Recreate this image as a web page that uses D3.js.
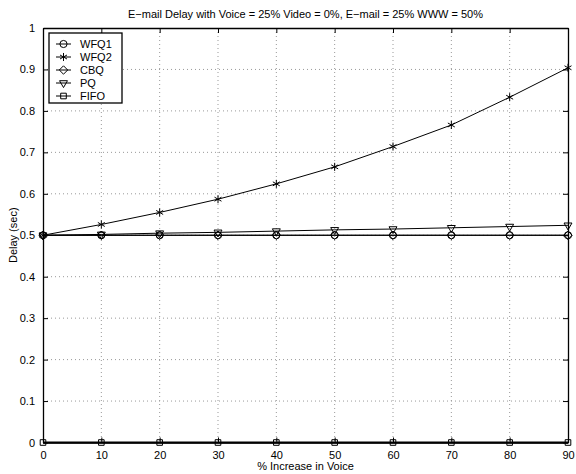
<!DOCTYPE html>
<html>
<head>
<meta charset="utf-8">
<script src="https://cdn.jsdelivr.net/npm/d3@7"></script>
<style>
    body { margin: 0; background: #fff; }
    svg { display: block; font-family: "Liberation Sans", Arial, sans-serif; }
    .grid line { stroke: #999; stroke-dasharray: 1 3; }
</style>
</head>
<body>
<div id="chart"></div>
<script>
// E-mail delay vs voice increase
const xValues = [0, 10, 20, 30, 40, 50, 60, 70, 80, 90];
const wfq1 = [0.5, 0.5, 0.5, 0.5, 0.5, 0.5, 0.5, 0.5, 0.5, 0.5];
const wfq2 = [0.5, 0.526, 0.555, 0.587, 0.624, 0.665, 0.714, 0.766, 0.833, 0.904];
const cbq = [0.5, 0.5, 0.5, 0.5, 0.5, 0.5, 0.5, 0.5, 0.5, 0.5];
const pq = [0.5, 0.502, 0.505, 0.507, 0.51, 0.513, 0.515, 0.518, 0.521, 0.524];
const fifo = [0, 0, 0, 0, 0, 0, 0, 0, 0, 0];
const seriesNames = ['WFQ1', 'WFQ2', 'CBQ', 'PQ', 'FIFO'];
const xTicks = [0, 10, 20, 30, 40, 50, 60, 70, 80, 90];
const yTicks = [0, 0.1, 0.2, 0.3, 0.4, 0.5, 0.6, 0.7, 0.8, 0.9, 1];

const width = 576, height = 474;
const margin = {top: 28, right: 8, bottom: 31.5, left: 43};
const iw = width - margin.left - margin.right;
const ih = height - margin.top - margin.bottom;

const x = d3.scaleLinear().domain([0, 90]).range([0, iw]);
const y = d3.scaleLinear().domain([0, 1]).range([ih, 0]);

const svg = d3.select('#chart').append('svg')
    .attr('width', width).attr('height', height);
const g = svg.append('g').attr('transform', `translate(${margin.left},${margin.top})`);

// grid
g.append('g').attr('class', 'grid')
    .selectAll('line').data(xTicks.slice(1, -1)).enter().append('line')
    .attr('x1', d => x(d)).attr('x2', d => x(d)).attr('y1', 0).attr('y2', ih);
g.append('g').attr('class', 'grid')
    .selectAll('line').data(yTicks.slice(1, -1)).enter().append('line')
    .attr('y1', d => y(d)).attr('y2', d => y(d)).attr('x1', 0).attr('x2', iw);

// axes (MATLAB style: inward ticks on all sides)
const fmt = d => d === 0 ? '0' : d === 1 ? '1' : d3.format('.1f')(d);
const axB = g.append('g').attr('transform', `translate(0,${ih})`)
    .call(d3.axisBottom(x).tickValues(xTicks).tickSizeInner(-5).tickSizeOuter(0).tickPadding(9));
const axL = g.append('g')
    .call(d3.axisLeft(y).tickValues(yTicks).tickFormat(fmt).tickSizeInner(-5).tickSizeOuter(0).tickPadding(8));
const axT = g.append('g')
    .call(d3.axisTop(x).tickValues(xTicks).tickSizeInner(-5).tickSizeOuter(0).tickFormat(''));
const axR = g.append('g').attr('transform', `translate(${iw},0)`)
    .call(d3.axisRight(y).tickValues(yTicks).tickSizeInner(-5).tickSizeOuter(0).tickFormat(''));
[axB, axL, axT, axR].forEach(a => {
    a.select('.domain').attr('stroke', '#000').attr('stroke-width', 1.3);
    a.selectAll('.tick line').attr('stroke', '#000');
    a.selectAll('text').attr('font-size', 11).attr('fill', '#000')
        .attr('font-family', '"Liberation Sans", Arial, sans-serif');
});

// markers
const sym = {
    circle: d3.symbol().type(d3.symbolCircle).size(40),
    star: d3.symbol().type(d3.symbolAsterisk).size(45),
    diamond: d3.symbol().type(d3.symbolDiamond2).size(45),
    tri: d3.symbol().type(d3.symbolTriangle2).size(45),
    square: d3.symbol().type(d3.symbolSquare2).size(40)
};
const allSeries = [
    {name: seriesNames[0], values: wfq1, marker: 'circle', rot: 0},
    {name: seriesNames[1], values: wfq2, marker: 'star', rot: 0},
    {name: seriesNames[2], values: cbq, marker: 'diamond', rot: 0},
    {name: seriesNames[3], values: pq, marker: 'tri', rot: 180},
    {name: seriesNames[4], values: fifo, marker: 'square', rot: 0}
];

const line = d3.line().x((d, i) => x(xValues[i])).y(d => y(d));

function drawMarker(sel, s, cx, cy) {
    sel.append('path')
        .attr('d', sym[s.marker]())
        .attr('transform', `translate(${cx},${cy}) rotate(${s.rot})`)
        .attr('fill', 'none')
        .attr('stroke', '#000')
        .attr('stroke-width', 1);
}

allSeries.forEach(s => {
    g.append('path').datum(s.values)
        .attr('d', line)
        .attr('fill', 'none')
        .attr('stroke', '#000')
        .attr('stroke-width', s.name === 'FIFO' ? 2 : 1);
    s.values.forEach((v, i) => drawMarker(g, s, x(xValues[i]), y(v)));
});

// legend
const lg = svg.append('g').attr('transform', 'translate(49,33)');
lg.append('rect').attr('width', 73).attr('height', 70)
    .attr('fill', '#fff').attr('stroke', '#000').attr('stroke-width', 1.3);
allSeries.forEach((s, i) => {
    const cy = 11 + i * 13;
    lg.append('line').attr('x1', 7).attr('x2', 22).attr('y1', cy).attr('y2', cy).attr('stroke', '#000');
    drawMarker(lg, s, 14.5, cy);
    lg.append('text').attr('x', 31).attr('y', cy + 4).attr('font-size', 11).text(s.name);
});

// title and labels
svg.append('text').attr('x', margin.left + iw / 2).attr('y', 18)
    .attr('text-anchor', 'middle').attr('font-size', 11)
    .text('E\u2212mail Delay with Voice = 25% Video = 0%, E\u2212mail = 25% WWW = 50%');
svg.append('text').attr('x', margin.left + iw / 2).attr('y', 470)
    .attr('text-anchor', 'middle').attr('font-size', 11)
    .text('% Increase in Voice');
svg.append('text').attr('transform', 'rotate(-90)')
    .attr('x', -(margin.top + ih / 2)).attr('y', 17)
    .attr('text-anchor', 'middle').attr('font-size', 11)
    .text('Delay (sec)');
</script>
</body>
</html>
